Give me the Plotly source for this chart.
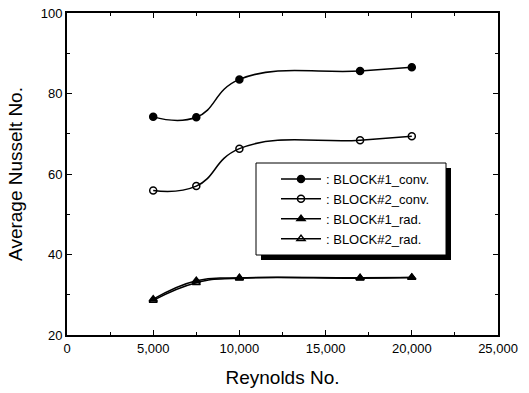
import plotly.graph_objects as go

# Reynolds numbers tested
reynolds = [5000, 7500, 10000, 17000, 20000]

# Average Nusselt numbers per block and heat-transfer mode
block1_conv = [74.2, 74.1, 83.5, 85.6, 86.5]
block2_conv = [55.9, 57.0, 66.3, 68.4, 69.4]
block1_rad = [28.9, 33.5, 34.2, 34.2, 34.3]
block2_rad = [28.6, 33.0, 34.1, 34.1, 34.3]

series = [
    (": BLOCK#1_conv.", block1_conv, "circle"),
    (": BLOCK#2_conv.", block2_conv, "circle-open"),
    (": BLOCK#1_rad.", block1_rad, "triangle-up"),
    (": BLOCK#2_rad.", block2_rad, "triangle-up-open"),
]

FONT = "Liberation Sans, Arial, sans-serif"

fig = go.Figure()
for name, vals, sym in series:
    fig.add_trace(go.Scatter(
        x=reynolds, y=vals, name=name,
        mode="lines+markers",
        line=dict(color="black", width=1.5, shape="spline", smoothing=1.3),
        marker=dict(symbol=sym, size=7, color="black",
                    line=dict(color="black", width=1.5)),
    ))

L, R, T, B = 67, 31, 13, 58
W, H = 529, 393
pw, ph = W - L - R, H - T - B


def px2paper(x, y):
    return (x - L) / pw, (H - B - y) / ph


# legend frame (pixels) with a drop shadow
lx0, ly0, lx1, ly1 = 256, 163, 446, 255
sh = 5
sx0, sy0 = px2paper(lx0 + sh, ly1 + sh)
sx1, sy1 = px2paper(lx1 + sh, ly0 + sh)
fig.add_shape(type="rect", xref="paper", yref="paper",
              x0=sx0, y0=sy0, x1=sx1, y1=sy1,
              fillcolor="black", line=dict(width=0), layer="above")
bx0, by0 = px2paper(lx0, ly1)
bx1, by1 = px2paper(lx1, ly0)
fig.add_shape(type="rect", xref="paper", yref="paper",
              x0=bx0, y0=by0, x1=bx1, y1=by1,
              fillcolor="white", line=dict(color="black", width=1), layer="above")

lgx, lgy = px2paper(276, 164)

axis_common = dict(
    showline=True, linecolor="black", linewidth=1.8, mirror="ticks",
    ticks="inside", ticklen=5, tickwidth=1.2, tickcolor="black",
    showgrid=False, zeroline=False, automargin=False,
    tickfont=dict(family=FONT, size=13, color="black"),
)

fig.update_layout(
    width=W, height=H,
    margin=dict(l=L, r=R, t=T, b=B),
    paper_bgcolor="white", plot_bgcolor="white",
    showlegend=True,
    legend=dict(
        x=lgx, y=lgy, xanchor="left", yanchor="top",
        bgcolor="rgba(0,0,0,0)", borderwidth=0,
        font=dict(family=FONT, size=13, color="black"),
        tracegroupgap=0, itemwidth=40,
    ),
    xaxis=dict(
        range=[0, 25000], tickvals=[0, 5000, 10000, 15000, 20000, 25000],
        tickformat=",d",
        minor=dict(ticks="inside", ticklen=3, dtick=2500, tickcolor="black", showgrid=False),
        title=dict(text="Reynolds No.", font=dict(family=FONT, size=19, color="black"), standoff=16),
        **axis_common,
    ),
    yaxis=dict(
        range=[20, 100], tickvals=[20, 40, 60, 80, 100],
        minor=dict(ticks="inside", ticklen=3, dtick=10, tickcolor="black", showgrid=False),
        title=dict(text="Average Nusselt No.", font=dict(family=FONT, size=19, color="black"), standoff=13),
        **axis_common,
    ),
)

fig.write_html("out.html")
